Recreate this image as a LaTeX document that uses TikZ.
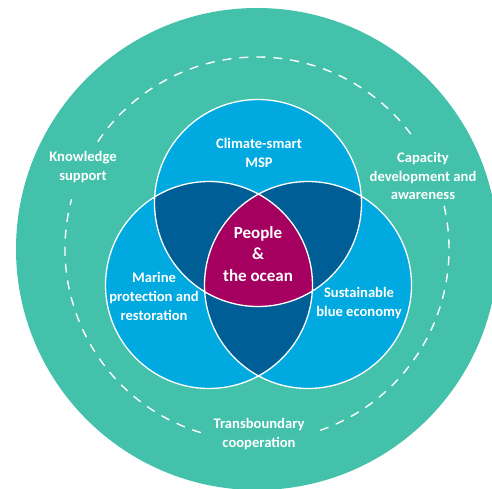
\documentclass[tikz,border=0pt]{standalone}
\usepackage{fontspec}
\setmainfont{Carlito}

\definecolor{seateal}{RGB}{67,193,170}
\definecolor{lightblue}{RGB}{0,169,224}
\definecolor{darkblue}{RGB}{0,94,150}
\definecolor{oceanred}{RGB}{165,0,95}

\tikzstyle{ringtext} = [text=white, align=center, font=\bfseries\fontsize{14.6}{18.5}\selectfont]
\tikzstyle{venntext} = [text=white, align=center, font=\bfseries\fontsize{14.6}{19}\selectfont]
\tikzstyle{coretext} = [text=white, align=center, font=\bfseries\fontsize{17}{21.5}\selectfont]
\tikzstyle{outline} = [draw=white, line width=1.3pt]

\begin{document}
\begin{tikzpicture}[x=1pt, y=-1pt]
\useasboundingbox (0,0) rectangle (492,489);
\clip (0,0) rectangle (492,489);

% outer ring
\fill[seateal] (257,249) circle (241);
\draw[white, line width=1.4pt, dash pattern=on 9pt off 8pt]
  (257,249) ++(-13:192) arc (-13:71:192)
  (257,249) ++(-146:192) arc (-146:-35:192)
  (257,249) ++(107:192) arc (107:195:192);

% venn circles
\coordinate (top) at (258,203);
\coordinate (left) at (209,285);
\coordinate (right) at (308,285);
\fill[lightblue] (top) circle (103.5) (left) circle (103.5) (right) circle (103.5);
\begin{scope}
  \clip (top) circle (103.5);
  \fill[darkblue] (left) circle (103.5) (right) circle (103.5);
\end{scope}
\begin{scope}
  \clip (left) circle (103.5);
  \fill[darkblue] (right) circle (103.5);
\end{scope}
\begin{scope}
  \clip (top) circle (103.5);
  \clip (left) circle (103.5);
  \fill[oceanred] (right) circle (103.5);
\end{scope}
\draw[outline] (top) circle (103.5) (left) circle (103.5) (right) circle (103.5);

% labels
\node (msp) [venntext] at (259,153) {Climate-smart\\MSP};
\node (marine) [venntext] at (154,296) {Marine\\protection and\\restoration};
\node (blue) [venntext] at (359,303) {Sustainable\\blue economy};
\node (people) [coretext] at (258,254) {People\\\&\\the ocean};
\node (knowledge) [ringtext] at (83,167) {Knowledge\\support};
\node (capacity) [ringtext] at (423,176) {Capacity\\development and\\awareness};
\node (trans) [ringtext] at (259,434) {Transboundary\\cooperation};
\end{tikzpicture}
\end{document}
